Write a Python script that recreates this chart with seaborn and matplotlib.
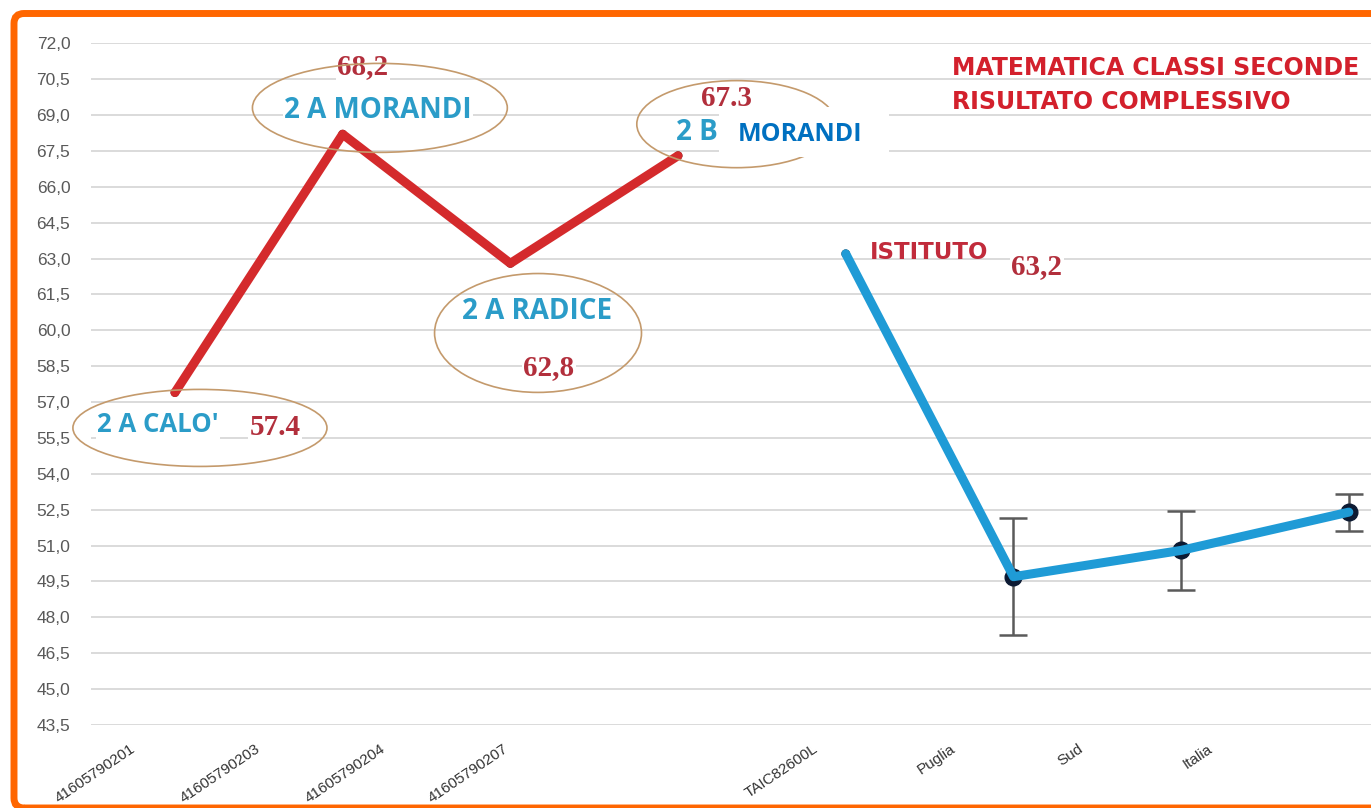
import numpy as np
import pandas as pd
import matplotlib
matplotlib.use("Agg")
import matplotlib.pyplot as plt
import seaborn as sns
from matplotlib.patches import Ellipse, FancyBboxPatch, Rectangle
from matplotlib.transforms import IdentityTransform

# dati
categorie = ["41605790201", "41605790203", "41605790204", "41605790207",
             "TAIC82600L", "Puglia", "Sud", "Italia"]
valori_classi = [57.4, 68.2, 62.8, 67.3]
valori_confronto = [63.2, 49.7, 50.8, 52.4]
errori_confronto = [0.0, 2.45, 1.65, 0.77]
yticks = np.arange(43.5, 72.01, 1.5)

nomi_classi = ["2 A CALO'", "2 A MORANDI", "2 A RADICE", "2 B"]
etichette_valori = ["57.4", "68,2", "62,8", "67.3", "63,2"]
titolo = ["MATEMATICA CLASSI SECONDE", "RISULTATO COMPLESSIVO"]

# layout delle annotazioni (coordinate dati)
pos_nomi = [(-0.1, 56.05), (1.21, 69.21), (2.159, 60.77), (3.11, 68.25)]
size_nomi = [18.5, 20, 20, 20]
pos_valori = [(0.596, 55.92), (1.121, 71.01), (2.23, 58.43), (3.29, 69.71), (5.14, 62.65)]
ellissi = [(0.149, 55.92, 1.515, 3.22), (1.222, 69.30, 1.52, 3.72),
           (2.165, 59.89, 1.234, 4.97), (3.349, 68.62, 1.19, 3.64)]
xlabel_dx = [-45, -88, -130, -175, -33, -63, -103, -142]  # px

ROSSO = "#d42a2c"
BLU = "#1f9bd6"

sns.set_theme(style="white")
plt.rcParams["font.family"] = ["Liberation Sans", "DejaVu Sans"]

df = pd.DataFrame({
    "pos": list(range(len(categorie))),
    "valore": valori_classi + valori_confronto,
    "serie": ["classi"] * 4 + ["confronto"] * 4,
})

fig = plt.figure(figsize=(13.71, 8.08), dpi=100)
ax = fig.add_axes([91.1 / 1371, 83 / 808, 1 - 91.1 / 1371, (725 - 43.3) / 808])

sns.lineplot(data=df, x="pos", y="valore", hue="serie",
             palette={"classi": ROSSO, "confronto": BLU}, linewidth=6.5,
             legend=False, ax=ax, zorder=3, sort=False,
             solid_capstyle="round", solid_joinstyle="round")

# marcatori piccoli
sns.scatterplot(x=df["pos"][:5], y=df["valore"][:5], s=40, color="#2a1c1c",
                ax=ax, zorder=2.5, legend=False, edgecolor="none")

# barre d'errore Puglia / Sud / Italia
ax.errorbar(df["pos"][5:], df["valore"][5:], yerr=errori_confronto[1:], fmt="o",
            ms=12, color="#0c1a33", ecolor="#5a5a5a", elinewidth=1.8,
            capsize=10, capthick=1.8, zorder=2)

ax.set_xlim(-0.5, -0.5 + (1371 - 91.1) / 167.7)
ax.set_ylim(43.5, 72.0)
ax.set_yticks(yticks)
ax.set_yticklabels([f"{v:.1f}".replace(".", ",") for v in yticks])
ax.set_xticks(range(len(categorie)))
ax.set_xticklabels([])
ax.tick_params(axis="both", length=0)
ax.tick_params(axis="y", pad=15, labelsize=12.5, labelcolor="#595959")
ax.yaxis.grid(True, color="#d4d4d4", lw=1.2)
ax.xaxis.grid(False)
for s in ax.spines.values():
    s.set_visible(False)
ax.set_xlabel("")
ax.set_ylabel("")

for i, (lab, dx) in enumerate(zip(categorie, xlabel_dx)):
    ax.annotate(lab, xy=(i, 0), xycoords=ax.get_xaxis_transform(),
                xytext=(dx * 0.72, -12), textcoords="offset points",
                rotation=34, rotation_mode="anchor", ha="right", va="top",
                fontsize=11, color="#333333", annotation_clip=False)

for (cx, cy, w, h) in ellissi:
    ax.add_patch(Ellipse((cx, cy), w, h, fill=False, ec="#c49a6c", lw=1.2,
                         zorder=5.5, clip_on=False))

for nome, (tx, ty), fs in zip(nomi_classi, pos_nomi, size_nomi):
    ax.text(tx, ty, nome, ha="center", va="center", fontsize=fs, fontweight="bold",
            family="Open Sans", color="#2b9cc8", zorder=5,
            bbox=dict(fc="white", ec="none", pad=1))

for lab, (tx, ty) in zip(etichette_valori, pos_valori):
    ax.text(tx, ty, lab, ha="center", va="center", fontsize=21, fontweight="bold",
            family="Liberation Serif", color="#b22f3c", zorder=5,
            bbox=dict(fc="white", ec="none", pad=1))

# riquadro bianco sopra "2 B"
ax.add_patch(Rectangle((3.244, 67.25), 1.014, 2.08, fc="white", ec="none", zorder=6))
ax.text(3.727, 68.17, "MORANDI", ha="center", va="center", fontsize=18,
        fontweight="bold", family="Open Sans", color="#0070c0", zorder=7)

ax.text(4.496, 63.27, "ISTITUTO", ha="center", va="center", fontsize=16.5,
        fontweight="bold", family="DejaVu Sans", color="#c12b3b", zorder=5)

ax.text(0.673, 0.9638, titolo[0], transform=ax.transAxes, ha="left", va="center",
        fontsize=17, fontweight="bold", family="DejaVu Sans", color="#d3202c", zorder=5)
ax.text(0.673, 0.9139, titolo[1], transform=ax.transAxes, ha="left", va="center",
        fontsize=17, fontweight="bold", family="DejaVu Sans", color="#d3202c", zorder=5)

# cornice arancione
cornice = FancyBboxPatch((14, 0), 1400, 808 - 13.5,
                         boxstyle="round,pad=0,rounding_size=10",
                         transform=IdentityTransform(), fill=False,
                         ec="#ff6600", lw=5)
fig.add_artist(cornice)

fig.savefig("out.png", dpi=100)
